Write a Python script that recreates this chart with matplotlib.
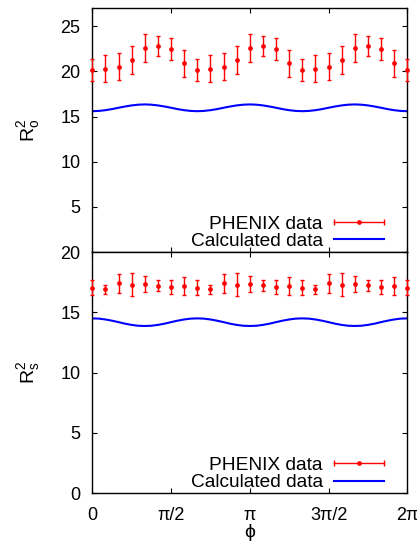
import numpy as np
import matplotlib
matplotlib.use("Agg")
import matplotlib.pyplot as plt
from matplotlib.lines import Line2D
from matplotlib.legend_handler import HandlerLine2D, HandlerTuple

plt.rcParams['font.family'] = ['Liberation Sans', 'DejaVu Sans']
plt.rcParams['mathtext.fontset'] = 'custom'
plt.rcParams['mathtext.rm'] = 'Liberation Sans'
plt.rcParams['mathtext.it'] = 'Liberation Sans:italic'
plt.rcParams['font.size'] = 13

# ---- data ----
phi_data = [k * np.pi / 12 for k in range(25)]
ro2_data = [20.15, 20.3, 20.5, 21.3, 22.6, 22.85, 22.5, 20.9,
            20.15, 20.3, 20.5, 21.3, 22.6, 22.85, 22.5, 20.9,
            20.15, 20.3, 20.5, 21.3, 22.6, 22.85, 22.5, 20.9, 20.15]
ro2_err = [1.2, 1.5, 1.5, 1.55, 1.55, 1.1, 1.2, 1.5,
           1.2, 1.5, 1.5, 1.55, 1.55, 1.1, 1.2, 1.5,
           1.2, 1.5, 1.5, 1.55, 1.55, 1.1, 1.2, 1.5, 1.2]
rs2_data = [17.05, 16.9, 17.4, 17.3, 17.35, 17.2, 17.1, 17.2,
            17.05, 16.9, 17.4, 17.3, 17.35, 17.25, 17.1, 17.2,
            17.05, 16.9, 17.4, 17.3, 17.35, 17.25, 17.1, 17.2, 17.05]
rs2_err = [0.65, 0.4, 0.8, 0.97, 0.63, 0.47, 0.54, 0.76,
           0.65, 0.4, 0.8, 0.97, 0.63, 0.47, 0.54, 0.76,
           0.65, 0.4, 0.8, 0.97, 0.63, 0.47, 0.54, 0.76, 0.65]

phi_calc = [k * np.pi / 24 for k in range(49)]
ro2_calc = [15.60, 15.63, 15.71, 15.83, 15.98, 16.12, 16.24, 16.32,
            16.35, 16.32, 16.24, 16.12, 15.98, 15.83, 15.71, 15.63,
            15.60, 15.63, 15.71, 15.83, 15.98, 16.12, 16.24, 16.32,
            16.35, 16.32, 16.24, 16.12, 15.98, 15.83, 15.71, 15.63,
            15.60, 15.63, 15.71, 15.83, 15.98, 16.12, 16.24, 16.32,
            16.35, 16.32, 16.24, 16.12, 15.98, 15.83, 15.71, 15.63, 15.60]
rs2_calc = [14.50, 14.48, 14.41, 14.31, 14.19, 14.06, 13.96, 13.89,
            13.87, 13.89, 13.96, 14.06, 14.19, 14.31, 14.41, 14.48,
            14.50, 14.48, 14.41, 14.31, 14.19, 14.06, 13.96, 13.89,
            13.87, 13.89, 13.96, 14.06, 14.19, 14.31, 14.41, 14.48,
            14.50, 14.48, 14.41, 14.31, 14.19, 14.06, 13.96, 13.89,
            13.87, 13.89, 13.96, 14.06, 14.19, 14.31, 14.41, 14.48, 14.50]

xtick_vals = [0, np.pi / 2, np.pi, 3 * np.pi / 2, 2 * np.pi]
xtick_labels = ['0', 'π/2', 'π', '3π/2', '2π']
top_yticks = [5, 10, 15, 20, 25]
bot_yticks = [0, 5, 10, 15, 20]

RED = '#ff0000'
BLUE = '#0000ff'

fig = plt.figure(figsize=(4.17, 5.51), dpi=100)
L, W = 0.2213, 0.7554
ax1 = fig.add_axes([L, 0.5426, W, 0.985 - 0.5426])
ax2 = fig.add_axes([L, 0.1047, W, 0.5426 - 0.1047])


def style(ax):
    ax.set_xlim(0, 2 * np.pi)
    ax.set_xticks(xtick_vals)
    ax.tick_params(direction='in', top=True, right=True, length=3.5, width=0.8,
                   labelsize=13)
    ax.tick_params(axis='x', pad=9.5)
    ax.tick_params(axis='y', pad=8.5)
    for s in ax.spines.values():
        s.set_linewidth(1.0)


def draw(ax, y, err, ycalc):
    ax.errorbar(phi_data, y, yerr=err, fmt='o', color=RED, ms=2.4, mfc=RED, mec=RED,
                elinewidth=1.0, capsize=1.3, capthick=1.0, clip_on=False, zorder=3)
    ax.plot(phi_calc, ycalc, color=BLUE, lw=1.5)
    cap_line = Line2D([], [], color=RED, lw=1.0, marker='|', ms=5, mew=1.0)
    dot = Line2D([], [], color=RED, ls='none', marker='o', ms=2.4)
    calc = Line2D([], [], color=BLUE, lw=1.5)
    hmap = {cap_line: HandlerLine2D(numpoints=2, marker_pad=0),
            dot: HandlerLine2D(numpoints=1),
            tuple: HandlerTuple(ndivide=1)}
    ax.legend([(cap_line, dot), calc], ['PHENIX data', 'Calculated data'],
              handler_map=hmap, markerfirst=False, frameon=False,
              loc='lower right', bbox_to_anchor=(0.926, 0.008),
              borderaxespad=0, borderpad=0, handlelength=2.6,
              handletextpad=0.6, labelspacing=0.0, fontsize=13.8)


style(ax1)
ax1.set_ylim(0, 27)
ax1.set_yticks(top_yticks)
ax1.tick_params(labelbottom=False)
draw(ax1, ro2_data, ro2_err, ro2_calc)
ax1.set_ylabel(r'$\mathrm{R_o^2}$', fontsize=14, labelpad=13)

style(ax2)
ax2.set_ylim(0, 20)
ax2.set_yticks(bot_yticks)
ax2.set_xticklabels(xtick_labels)
draw(ax2, rs2_data, rs2_err, rs2_calc)
ax2.set_ylabel(r'$\mathrm{R_s^2}$', fontsize=14, labelpad=13)
ax2.set_xlabel('ϕ', fontsize=14, labelpad=0)

fig.savefig('out.png', dpi=100)
